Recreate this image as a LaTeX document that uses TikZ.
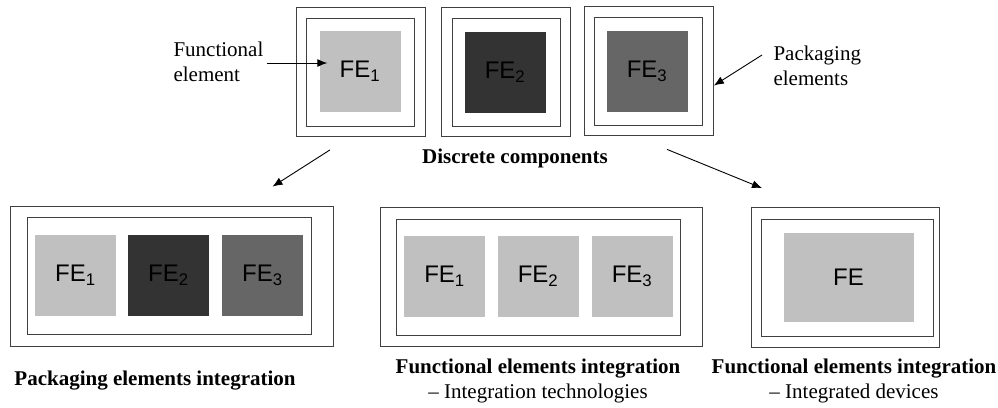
\documentclass[tikz,border=0pt]{standalone}
\usepackage{fontspec}
\setmainfont{Liberation Serif}
\setsansfont{Liberation Sans}
\usetikzlibrary{arrows.meta}

\definecolor{felight}{HTML}{C0C0C0}
\definecolor{fedark}{HTML}{333333}
\definecolor{femid}{HTML}{666666}

\tikzset{
  pkgbox/.style={draw=black!75, line width=0.8pt, inner sep=0pt},
  felem/.style={inner sep=0pt, minimum size=81pt, font=\sffamily\fontsize{24}{24}\selectfont},
  lbl/.style={font=\fontsize{21}{25}\selectfont},
  arr/.style={-{Latex[length=10pt,width=8pt]}, line width=0.9pt}
}

\begin{document}
\begin{tikzpicture}[x=1pt,y=-1pt]
    \useasboundingbox (0,0) rectangle (998,407);
    % discrete components
    \node[pkgbox, minimum size=129pt] (c1out) at (361,72) {};
    \node[pkgbox, minimum size=108pt] (c1in) at (360,72) {};
    \node[felem, fill=felight] (c1fe) at (360,71.5) {FE\textsubscript{1}};
    \node[pkgbox, minimum size=129pt] (c2out) at (506,72) {};
    \node[pkgbox, minimum size=108pt] (c2in) at (506,72) {};
    \node[felem, fill=fedark] (c2fe) at (505,72) {FE\textsubscript{2}};
    \node[pkgbox, minimum size=129pt] (c3out) at (649,70.5) {};
    \node[pkgbox, minimum size=108pt] (c3in) at (648,71) {};
    \node[felem, fill=femid] (c3fe) at (647,71) {FE\textsubscript{3}};
    \node[lbl, align=left, anchor=west] (felbl) at (170,62) {Functional\\element};
    \node[lbl, align=left, anchor=west] (pklbl) at (770,66) {Packaging\\elements};
    \node[lbl, font=\bfseries\fontsize{21}{25}\selectfont] (dclbl) at (515,158) {Discrete components};
    \draw[arr] ([yshift=-1pt]felbl.east) -- ([shift={(8pt,8.5pt)}]c1fe.west);
    \draw[arr] ([shift={(-8pt,11pt)}]pklbl.west) -- ([yshift=-15pt]c3out.east);
    % packaging elements integration
    \node[pkgbox, minimum width=323pt, minimum height=140pt] (g1out) at (171.5,276) {};
    \node[pkgbox, minimum width=284pt, minimum height=117pt] (g1in) at (169,275.5) {};
    \node[felem, fill=felight] (g1fe1) at (75.5,275.5) {FE\textsubscript{1}};
    \node[felem, fill=fedark] (g1fe2) at (168.5,275.5) {FE\textsubscript{2}};
    \node[felem, fill=femid] (g1fe3) at (262.5,275.5) {FE\textsubscript{3}};
    \node[lbl, font=\bfseries\fontsize{21}{25}\selectfont] (g1lbl) at (155,381) {Packaging elements integration};
    % functional elements integration
    \node[pkgbox, minimum width=322pt, minimum height=139pt] (g2out) at (541,277) {};
    \node[pkgbox, minimum width=284pt, minimum height=116pt] (g2in) at (538.5,277) {};
    \node[felem, fill=felight] (g2fe1) at (444.5,276.5) {FE\textsubscript{1}};
    \node[felem, fill=felight] (g2fe2) at (538,276.5) {FE\textsubscript{2}};
    \node[felem, fill=felight] (g2fe3) at (632,276.5) {FE\textsubscript{3}};
    \node[lbl, align=center] (g2lbl) at (538,381) {\textbf{Functional elements integration}\\-- Integration technologies};
    % integrated device
    \node[pkgbox, minimum width=188pt, minimum height=140pt] (g3out) at (845.5,277.5) {};
    \node[pkgbox, minimum width=172pt, minimum height=117pt] (g3in) at (847.5,278) {};
    \node[felem, fill=felight, minimum width=130pt, minimum height=89pt] (g3fe) at (848.5,277) {FE};
    \node[lbl, align=center] (g3lbl) at (854,381) {\textbf{Functional elements integration}\\-- Integrated devices};
    \draw[arr] ([shift={(-31pt,-13pt)}]c1out.south) -- ([shift={(101pt,19pt)}]g1out.north);
    \draw[arr] ([shift={(18pt,-14pt)}]c3out.south) -- ([shift={(-83.5pt,19pt)}]g3out.north);
\end{tikzpicture}
\end{document}
